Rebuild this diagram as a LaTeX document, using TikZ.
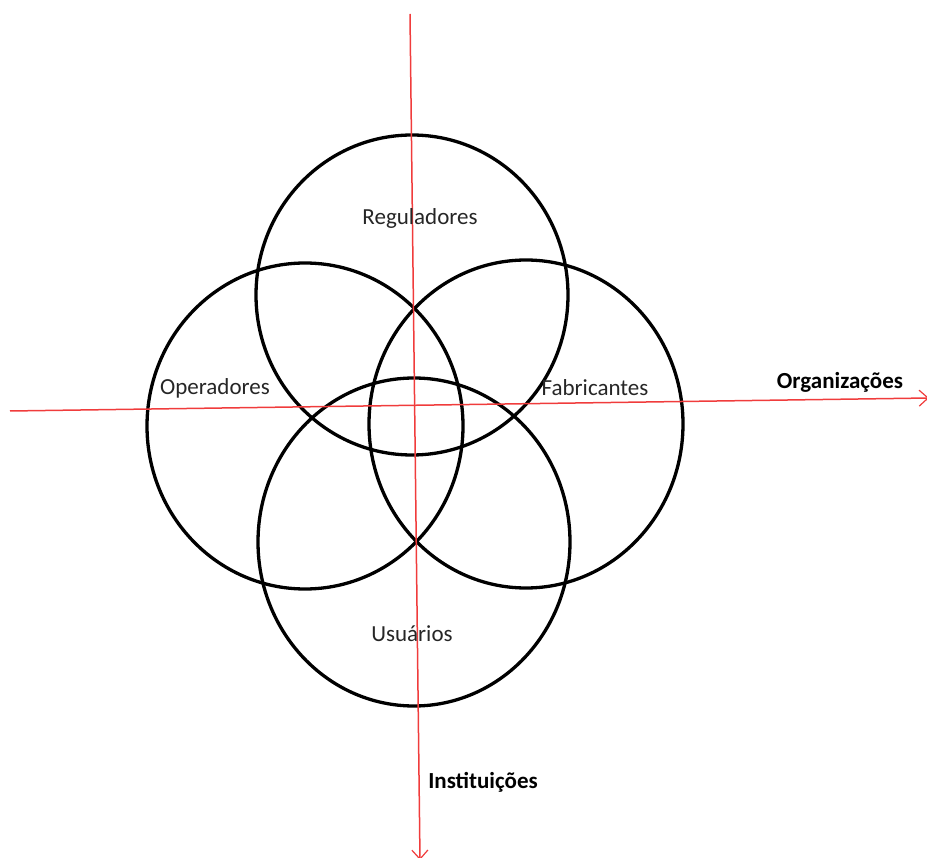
\documentclass[tikz,border=0pt]{standalone}
\usepackage{fontspec}
\setmainfont{Carlito}
\usetikzlibrary{arrows.meta}
\definecolor{axisred}{RGB}{240,60,60}
\begin{document}
\begin{tikzpicture}[x=1pt,y=-1pt,
  ring/.style={draw=black,line width=3.3pt},
  axis/.style={draw=axisred,line width=1.5pt,-{Straight Barb[length=9pt,width=16pt,line width=1.2pt]}},
  lbl/.style={font=\fontsize{23}{26}\selectfont,text=black!85},
  axlbl/.style={font=\fontsize{23}{26}\selectfont\bfseries}]
\useasboundingbox (0,0) rectangle (927,858);
% four overlapping circles
\draw[ring] (412,295) ellipse [x radius=156,y radius=160];
\draw[ring] (305,426) ellipse [x radius=158,y radius=163];
\draw[ring] (526,424) ellipse [x radius=157,y radius=164];
\draw[ring] (414,542) ellipse [x radius=156,y radius=164];
% axes
\coordinate (vtop) at (410,14);
\coordinate (vbot) at (420,860);
\coordinate (hleft) at (10,411);
\coordinate (hright) at (929,398);
\draw[axis] (vtop) -- (vbot);
\draw[axis] (hleft) -- (hright);
% labels
\node[lbl] (reg) at (420,218) {Reguladores};
\node[lbl] (ope) at (215,388) {Operadores};
\node[lbl] (fab) at (595,388) {Fabricantes};
\node[lbl] (usu) at (412,634) {Usuários};
\node[axlbl] (org) at (840,382) {Organizações};
\node[axlbl] (ins) at (483,782) {Instituições};
\end{tikzpicture}
\end{document}
